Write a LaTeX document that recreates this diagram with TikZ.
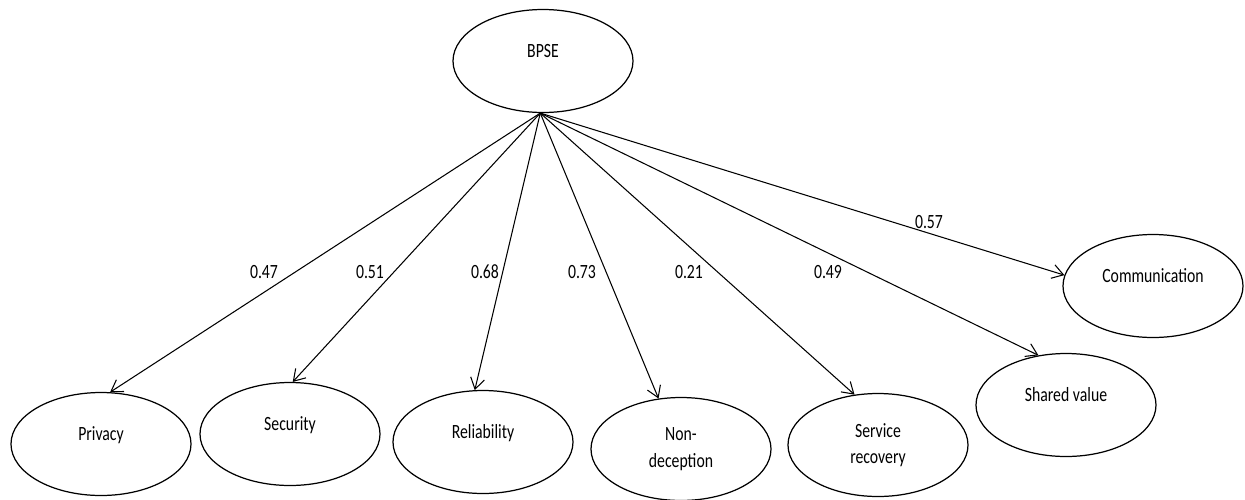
\documentclass[tikz,border=0pt]{standalone}
\usepackage{fontspec}
\setmainfont{Carlito}[FakeStretch=0.78]
\usepackage{tikz}
\usetikzlibrary{shapes.geometric,arrows.meta,positioning}
\tikzset{every node/.style={font=\fontsize{11.5}{15}\selectfont}}

\begin{document}
\begin{tikzpicture}[
  construct/.style={
    draw,
    ellipse,
    line width=0.7pt,
    inner sep=0pt,
    minimum width=3.6cm,
    minimum height=2.06cm,
    align=center,
    text height=8pt,
    text depth=12.4pt
  },
  twoline/.style={construct, text height=, text depth=},
  load/.style={->, line width=0.6pt, -{Straight Barb[length=2.2mm,width=2.8mm]}}
]
\useasboundingbox (0,0) rectangle (24.9,-9.98);

\node[construct] (bpse) at (10.86,-1.22) {BPSE};

\node[construct] (privacy) at (2.02,-8.88) {Privacy};
\node[construct] (security) at (5.80,-8.68) {Security};
\node[construct] (reliab) at (9.66,-8.84) {Reliability};
\node[twoline] (nondec) at (13.62,-8.98) {Non-\\deception};
\node[twoline] (servrec) at (17.56,-8.90) {Service\\recovery};
\node[construct] (shared) at (21.32,-8.10) {Shared value};
\node[construct] (comm) at (23.06,-5.72) {Communication};

\draw[load] (bpse.267) -- (privacy.80);
\draw[load] (bpse.267) -- (security.87);
\draw[load] (bpse.267) -- (reliab.99);
\draw[load] (bpse.267) -- (nondec.114);
\draw[load] (bpse.267) -- (servrec.115);
\draw[load] (bpse.267) -- (shared.119);
\draw[load] (bpse.267) -- (comm.173);

% loadings
\node (l1) at (5.28,-5.44) {0.47};
\node (l2) at (7.40,-5.44) {0.51};
\node (l3) at (9.70,-5.44) {0.68};
\node (l4) at (11.64,-5.44) {0.73};
\node (l5) at (13.78,-5.44) {0.21};
\node (l6) at (16.56,-5.44) {0.49};
\node (l7) at (18.58,-4.44) {0.57};

\end{tikzpicture}
\end{document}
